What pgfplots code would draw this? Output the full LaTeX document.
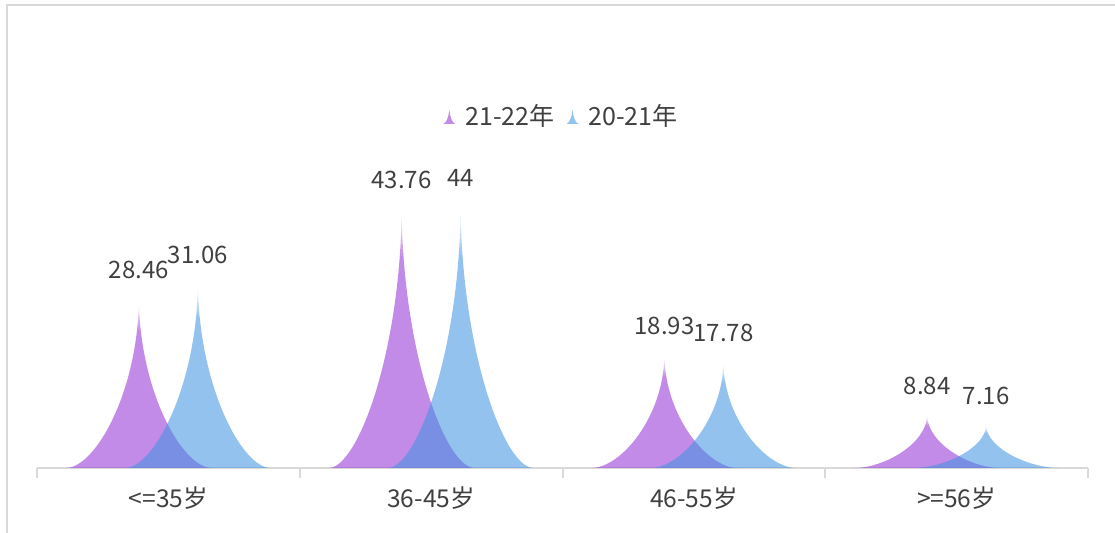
\documentclass[border=0pt]{standalone}
\usepackage{fontspec}
\setmainfont{Noto Sans CJK SC}
\usepackage{pgfplots}
\usepackage{pgfplotstable}
\pgfplotsset{compat=1.18}

\definecolor{spikeP}{RGB}{148,48,214}
\definecolor{spikeB}{RGB}{62,146,225}
\definecolor{axisgray}{RGB}{217,217,217}
\definecolor{textgray}{RGB}{64,64,64}

% tip of each spike fades to white
\pgfdeclareverticalshading{shP}{100bp}{color(0bp)=(spikeP); color(25bp)=(spikeP); color(66bp)=(spikeP); color(75bp)=(white); color(100bp)=(white)}
\pgfdeclareverticalshading{shB}{100bp}{color(0bp)=(spikeB); color(25bp)=(spikeB); color(66bp)=(spikeB); color(75bp)=(white); color(100bp)=(white)}

% spike drawn downwards from the data point to y=0; #1 shading, #2 shift in pt
\newcommand\spike[2]{%
  \pgfmathsetmacro\hh{\val*2.95}%
  \pgfmathsetmacro\hc{0.55*\hh}%
  \pgfmathsetmacro\xa{#2-36.5}\pgfmathsetmacro\xb{#2-21.9}\pgfmathsetmacro\xc{#2-0.6}%
  \pgfmathsetmacro\xd{#2+0.6}\pgfmathsetmacro\xe{#2+21.9}\pgfmathsetmacro\xf{#2+36.5}%
  \shade[shading=#1, fill opacity=0.56, draw=none]
    (\xa pt,-\hh pt) .. controls (\xb pt,-\hh pt) and (\xc pt,-\hc pt) .. (#2 pt,0pt)
    .. controls (\xd pt,-\hc pt) and (\xe pt,-\hh pt) .. (\xf pt,-\hh pt) -- cycle;}
\pgfdeclareplotmark{spikeP}{\spike{shP}{-14.75}}
\pgfdeclareplotmark{spikeB}{\spike{shB}{14.75}}

\newcommand\legspike[1]{%
  \path[draw=none, fill=none] (0pt,0pt) -- (9pt,0pt);
  \fill[#1!56!white, draw=none] (0pt,-3.5pt) .. controls (1.6pt,-3pt) and (2.6pt,0pt) .. (3pt,3.5pt)
    .. controls (3.4pt,0pt) and (4.4pt,-3pt) .. (6pt,-3.5pt) -- cycle;}

\pgfplotstableread{
c v
0 28.46
1 43.76
2 18.93
3 8.84
}\dataA
\pgfplotstableread{
c v
0 31.06
1 44
2 17.78
3 7.16
}\dataB

\begin{document}
\begin{tikzpicture}
\begin{axis}[
  at={(18.5pt,32.5pt)}, anchor=south west,
  x=131.375pt, y=2.95pt,
  xmin=-0.5, xmax=3.5, ymin=0, ymax=50,
  clip=false,
  hide y axis,
  axis x line*=bottom,
  x axis line style={-, draw=axisgray, line width=1pt},
  xtick={0,1,2,3},
  xticklabels={<=35岁, 36-45岁, 46-55岁, >=56岁},
  minor xtick={-0.5,0.5,1.5,2.5,3.5},
  major tick length=0pt, minor tick length=5pt, tick align=outside,
  minor tick style={draw=axisgray, line width=1pt},
  xticklabel style={text=textgray, font=\fontsize{12.3}{14}\selectfont, yshift=-6pt},
  /pgf/number format/assume math mode=true,
  visualization depends on={\thisrow{v} \as \val},
  point meta=\thisrow{v},
  nodes near coords,
  every node near coord/.append style={text=textgray, font=\fontsize{12}{14}\selectfont, anchor=center, yshift=15pt},
  legend style={at={(0.5,1.19)}, anchor=center, draw=none, fill=none,
    font=\fontsize{12.5}{14}\selectfont, text=textgray, legend columns=2,
    /tikz/every even column/.append style={column sep=4pt}},
  legend cell align=left,
]
\addplot[only marks, mark=spikeP,
  every node near coord/.append style={xshift=-14.75pt},
  legend image code/.code={\legspike{spikeP}}] table[x=c, y=v] {\dataA};
\addlegendentry{21-22年}
\addplot[only marks, mark=spikeB,
  every node near coord/.append style={xshift=14.75pt},
  legend image code/.code={\legspike{spikeB}}] table[x=c, y=v] {\dataB};
\addlegendentry{20-21年}
\end{axis}
\draw[axisgray, line width=1pt] (3.5pt,-10pt) |- (600pt,264pt);
\pgfresetboundingbox
\path[use as bounding box] (0,0) rectangle (557.5pt,266.5pt);
\end{tikzpicture}
\end{document}
